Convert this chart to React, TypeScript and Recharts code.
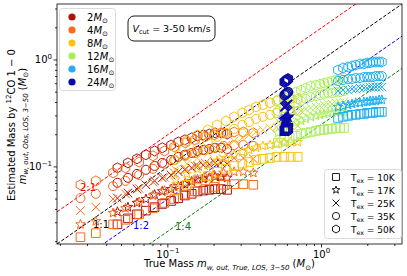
import React from 'react'
import { ScatterChart, Scatter, XAxis, YAxis, ReferenceLine } from 'recharts'

const W = 407
const H = 276
const domain: [number, number] = [0.019, 3.34]

const massNames = ['2', '4', '8', '12', '16', '24']
const massColors = ['#b3120c', '#fb6a1a', '#ffc20e', '#a8f05a', '#1cb0f5', '#0a0aa6']
const texNames = ['10K', '17K', '25K', '35K', '50K']
const texShapes = ['square', 'star', 'cross', 'circle', 'hexagon']

const axisTicks = [0.02, 0.03, 0.04, 0.05, 0.06, 0.07, 0.08, 0.09, 0.1, 0.2, 0.3, 0.4, 0.5, 0.6, 0.7, 0.8, 0.9, 1, 2, 3]
const majorTicks = [0.1, 1]
const majorExps = ['−1', '0']

// 2 Msun
const x2M = [0.047, 0.055, 0.063, 0.072, 0.082, 0.092, 0.105, 0.117, 0.129, 0.143, 0.156, 0.170, 0.186, 0.203, 0.222, 0.243]
const y2M_50K = [0.098, 0.109, 0.119, 0.130, 0.141, 0.151, 0.160, 0.171, 0.179, 0.187, 0.195, 0.199, 0.203, 0.208, 0.208, 0.203]
const y2M_35K = [0.071, 0.079, 0.086, 0.094, 0.102, 0.109, 0.116, 0.124, 0.130, 0.135, 0.141, 0.144, 0.147, 0.151, 0.151, 0.147]
const y2M_25K = [0.051, 0.057, 0.062, 0.068, 0.074, 0.079, 0.084, 0.090, 0.094, 0.098, 0.102, 0.104, 0.106, 0.109, 0.109, 0.106]
const y2M_17K = [0.038, 0.042, 0.046, 0.050, 0.055, 0.059, 0.062, 0.066, 0.069, 0.073, 0.076, 0.077, 0.079, 0.081, 0.081, 0.079]
const y2M_10K = [0.029, 0.033, 0.036, 0.039, 0.042, 0.045, 0.048, 0.051, 0.054, 0.056, 0.059, 0.060, 0.061, 0.062, 0.062, 0.061]

// 4 Msun
const x4M = [0.027, 0.034, 0.044, 0.053, 0.065, 0.080, 0.095, 0.110, 0.130, 0.150, 0.175, 0.200, 0.230, 0.270, 0.310, 0.360]
const y4M_50K = [0.068, 0.074, 0.088, 0.098, 0.111, 0.127, 0.141, 0.154, 0.168, 0.179, 0.191, 0.199, 0.208, 0.212, 0.212, 0.208]
const y4M_35K = [0.051, 0.056, 0.066, 0.074, 0.084, 0.096, 0.107, 0.116, 0.127, 0.135, 0.144, 0.150, 0.157, 0.160, 0.160, 0.157]
const y4M_25K = [0.039, 0.042, 0.050, 0.056, 0.063, 0.072, 0.080, 0.088, 0.096, 0.102, 0.109, 0.113, 0.119, 0.121, 0.121, 0.119]
const y4M_17K = [0.029, 0.031, 0.037, 0.041, 0.047, 0.054, 0.060, 0.065, 0.071, 0.076, 0.081, 0.084, 0.088, 0.090, 0.090, 0.088]
const y4M_10K = [0.022, 0.024, 0.029, 0.032, 0.036, 0.041, 0.046, 0.050, 0.055, 0.059, 0.062, 0.065, 0.068, 0.069, 0.069, 0.068]

// 8 Msun
const x8M = [0.112, 0.133, 0.156, 0.182, 0.209, 0.239, 0.270, 0.305, 0.338, 0.375, 0.415, 0.462, 0.510, 0.570, 0.630, 0.700]
const y8M_50K = [0.151, 0.175, 0.199, 0.222, 0.247, 0.269, 0.294, 0.320, 0.341, 0.364, 0.380, 0.397, 0.414, 0.423, 0.432, 0.432]
const y8M_35K = [0.116, 0.132, 0.151, 0.171, 0.191, 0.208, 0.227, 0.247, 0.263, 0.281, 0.294, 0.307, 0.320, 0.327, 0.334, 0.334]
const y8M_25K = [0.094, 0.107, 0.121, 0.135, 0.147, 0.160, 0.175, 0.187, 0.199, 0.212, 0.222, 0.231, 0.236, 0.242, 0.242, 0.242]
const y8M_17K = [0.076, 0.086, 0.096, 0.104, 0.114, 0.121, 0.130, 0.138, 0.144, 0.151, 0.157, 0.160, 0.164, 0.168, 0.171, 0.171]
const y8M_10K = [0.061, 0.068, 0.076, 0.082, 0.090, 0.096, 0.102, 0.107, 0.111, 0.116, 0.119, 0.121, 0.124, 0.124, 0.124, 0.124]

// 12 Msun
const x12M = [0.52, 0.57, 0.62, 0.68, 0.735, 0.79, 0.85, 0.92, 0.98, 1.04, 1.10, 1.17, 1.24, 1.32, 1.40]
const y12M_50K = [0.423, 0.450, 0.481, 0.502, 0.524, 0.547, 0.571, 0.583, 0.596, 0.609, 0.622, 0.636, 0.650, 0.664, 0.678]
const y12M_35K = [0.334, 0.356, 0.380, 0.397, 0.414, 0.432, 0.450, 0.460, 0.470, 0.481, 0.491, 0.491, 0.502, 0.502, 0.513]
const y12M_25K = [0.269, 0.287, 0.307, 0.320, 0.334, 0.348, 0.356, 0.363, 0.371, 0.380, 0.388, 0.388, 0.397, 0.397, 0.405]
const y12M_17K = [0.208, 0.227, 0.242, 0.258, 0.269, 0.281, 0.294, 0.300, 0.307, 0.313, 0.320, 0.320, 0.327, 0.327, 0.327]
const y12M_10K = [0.168, 0.179, 0.187, 0.195, 0.203, 0.208, 0.212, 0.217, 0.222, 0.222, 0.227, 0.227, 0.231, 0.231, 0.231]

// 16 Msun
const x16M = [1.28, 1.38, 1.49, 1.58, 1.67, 1.78, 1.89, 1.98, 2.07, 2.16, 2.26, 2.37, 2.47]
const y16M_50K = [0.806, 0.842, 0.860, 0.879, 0.898, 0.918, 0.918, 0.938, 0.938, 0.958, 0.958, 0.958, 0.958]
const y16M_35K = [0.636, 0.650, 0.664, 0.664, 0.678, 0.678, 0.693, 0.693, 0.693, 0.693, 0.708, 0.708, 0.708]
const y16M_25K = [0.513, 0.524, 0.524, 0.535, 0.535, 0.547, 0.547, 0.547, 0.559, 0.559, 0.559, 0.559, 0.559]
const y16M_17K = [0.363, 0.371, 0.380, 0.388, 0.397, 0.397, 0.405, 0.405, 0.414, 0.414, 0.414, 0.423, 0.423]
const y16M_10K = [0.287, 0.294, 0.300, 0.307, 0.307, 0.313, 0.313, 0.320, 0.320, 0.320, 0.327, 0.327, 0.327]

// 24 Msun
const x24M = [0.575, 0.585, 0.595, 0.605]
const y24M_50K = [0.622, 0.636, 0.650, 0.664]
const y24M_35K = [0.470, 0.481, 0.491, 0.502]
const y24M_25K = [0.363, 0.371, 0.380, 0.388]
const y24M_17K = [0.275, 0.281, 0.287, 0.294]
const y24M_10K = [0.217, 0.222, 0.227, 0.231]

const massTable = [
  { xs: x2M, ys: [y2M_10K, y2M_17K, y2M_25K, y2M_35K, y2M_50K] },
  { xs: x4M, ys: [y4M_10K, y4M_17K, y4M_25K, y4M_35K, y4M_50K] },
  { xs: x8M, ys: [y8M_10K, y8M_17K, y8M_25K, y8M_35K, y8M_50K] },
  { xs: x12M, ys: [y12M_10K, y12M_17K, y12M_25K, y12M_35K, y12M_50K] },
  { xs: x16M, ys: [y16M_10K, y16M_17K, y16M_25K, y16M_35K, y16M_50K] },
  { xs: x24M, ys: [y24M_10K, y24M_17K, y24M_25K, y24M_35K, y24M_50K] },
]

const ratios = [2, 1, 0.5, 0.25]
const ratioColors = ['#ff0000', '#000000', '#0000ff', '#008000']
const ratioNames = ['2:1', '1:1', '1:2', '1:4']

const series = massTable.flatMap((m, mi) =>
  m.ys.map((ys, ti) => ({
    key: `${massNames[mi]}-${texNames[ti]}`,
    color: massColors[mi],
    kind: texShapes[ti],
    width: mi === 5 ? 1.6 : 1,
    data: m.xs.map((x, i) => ({ x, y: ys[i] })),
  })),
)

const FONT = '"DejaVu Sans", sans-serif'

function markerPath(kind: string, cx: number, cy: number, s = 1) {
  if (kind === 'square') {
    const h = 4.3 * s
    return `M${cx - h},${cy - h}h${2 * h}v${2 * h}h${-2 * h}z`
  }
  if (kind === 'cross') {
    const h = 4.3 * s
    return `M${cx - h},${cy - h}L${cx + h},${cy + h}M${cx - h},${cy + h}L${cx + h},${cy - h}`
  }
  if (kind === 'hexagon') {
    const r = 5 * s
    const pts = [0, 1, 2, 3, 4, 5].map(k => {
      const a = (-90 + 60 * k) * Math.PI / 180
      return `${cx + r * Math.cos(a)},${cy + r * Math.sin(a)}`
    })
    return `M${pts.join('L')}z`
  }
  if (kind === 'star') {
    const R = 5 * s
    const r = R * 0.42
    const pts = Array.from({ length: 10 }, (_, k) => {
      const a = (-90 + 36 * k) * Math.PI / 180
      const rr = k % 2 === 0 ? R : r
      return `${cx + rr * Math.cos(a)},${cy + rr * Math.sin(a)}`
    })
    return `M${pts.join('L')}z`
  }
  const r = 4.5 * s
  return `M${cx - r},${cy}a${r},${r} 0 1,0 ${2 * r},0a${r},${r} 0 1,0 ${-2 * r},0`
}

function XTick({ x, y, payload }: any) {
  const idx = majorTicks.indexOf(payload.value)
  const major = idx >= 0
  return (
    <g>
      <line x1={x} x2={x} y1={y} y2={y + (major ? 3.5 : 2)} stroke="#000" strokeWidth={0.8} />
      {major && (
        <text x={x} y={y + 13.5} textAnchor="middle" fontSize={10} fontFamily={FONT} fill="#000">
          10<tspan dy={-4.5} fontSize={7}>{majorExps[idx]}</tspan>
        </text>
      )}
    </g>
  )
}

function YTick({ x, y, payload }: any) {
  const idx = majorTicks.indexOf(payload.value)
  const major = idx >= 0
  return (
    <g>
      <line x1={x} x2={x - (major ? 3.5 : 2)} y1={y} y2={y} stroke="#000" strokeWidth={0.8} />
      {major && (
        <text x={x - 5} y={y + 3.5} textAnchor="end" fontSize={10} fontFamily={FONT} fill="#000">
          10<tspan dy={-4.5} fontSize={7}>{majorExps[idx]}</tspan>
        </text>
      )}
    </g>
  )
}

const labelPos = [
  { x: 80, y: 191 },
  { x: 93, y: 228 },
  { x: 133, y: 229 },
  { x: 175, y: 230 },
]

function Overlay() {
  return (
    <svg width={W} height={H} style={{ position: 'absolute', left: 0, top: 0, pointerEvents: 'none' }} fontFamily={FONT}>
      <rect x={57} y={4} width={345} height={240} fill="none" stroke="#000" strokeWidth={0.8} />
      {ratioNames.map((n, i) => (
        <text key={n} x={labelPos[i].x} y={labelPos[i].y} fontSize={10} fill={ratioColors[i]}>{n}</text>
      ))}
      {/* mass legend */}
      <rect x={59.5} y={8.5} width={56} height={82} rx={3} fill="#fff" fillOpacity={0.85} stroke="#d0d0d0" strokeWidth={0.8} />
      {massNames.map((m, i) => (
        <g key={m}>
          <circle cx={72} cy={17 + 13 * i} r={3.6} fill={massColors[i]} />
          <text x={87} y={20.5 + 13 * i} fontSize={10} fill="#000">
            {m}<tspan fontStyle="italic">M</tspan><tspan fontSize={7} dy={2}>⊙</tspan>
          </text>
        </g>
      ))}
      {/* Vcut box */}
      <rect x={128} y={16} width={87} height={25} rx={6} fill="#fff" stroke="#000" strokeWidth={0.9} />
      <text x={171.5} y={31.5} textAnchor="middle" fontSize={9.5} fill="#000">
        <tspan fontStyle="italic">V</tspan><tspan fontSize={6.5} dy={2}>cut</tspan><tspan dy={-2}> = 3-50 km/s</tspan>
      </text>
      {/* Tex legend */}
      <rect x={324.5} y={169.5} width={77} height={69} rx={3} fill="#fff" fillOpacity={0.85} stroke="#d0d0d0" strokeWidth={0.8} />
      {texNames.map((t, i) => (
        <g key={t}>
          <path d={markerPath(texShapes[i], 336, 177 + 13 * i, 0.8)} fill="none" stroke="#000" strokeWidth={0.9} />
          <text x={351} y={180.5 + 13 * i} fontSize={9} fill="#000">
            T<tspan fontSize={6.3} dy={2}>ex</tspan><tspan dy={-2}> = {t}</tspan>
          </text>
        </g>
      ))}
      {/* axis labels */}
      <text x={229.5} y={267} textAnchor="middle" fontSize={10} fill="#000">
        True Mass <tspan fontStyle="italic">m</tspan>
        <tspan fontSize={7} fontStyle="italic" dy={2.5}>w, out, True, LOS, 3−50</tspan>
        <tspan dy={-2.5}> (</tspan><tspan fontStyle="italic">M</tspan><tspan fontSize={7} dy={2.5}>⊙</tspan><tspan dy={-2.5}>)</tspan>
      </text>
      <text transform="translate(14.5,125) rotate(-90)" textAnchor="middle" fontSize={10} fill="#000">
        Estimated Mass by <tspan fontSize={7} dy={-4}>12</tspan><tspan dy={4}>CO 1 − 0</tspan>
      </text>
      <text transform="translate(25.5,126) rotate(-90)" textAnchor="middle" fontSize={10} fill="#000">
        <tspan fontStyle="italic">m</tspan>
        <tspan fontSize={7} fontStyle="italic" dy={2.5}>w, out, Obs, LOS, 3−50</tspan>
        <tspan dy={-2.5}> (</tspan><tspan fontStyle="italic">M</tspan><tspan fontSize={7} dy={2.5}>⊙</tspan><tspan dy={-2.5}>)</tspan>
      </text>
    </svg>
  )
}

export default function App() {
  return (
    <div style={{ position: 'absolute', left: 0, top: 0, width: W, height: H, background: '#fff' }}>
      <ScatterChart width={W} height={H} margin={{ top: 4, right: 5, bottom: 0, left: 0 }}>
        <XAxis
          type="number" dataKey="x" scale="log" domain={domain} allowDataOverflow
          ticks={axisTicks} interval={0} tick={(p: any) => <XTick {...p} />}
          tickLine={false} axisLine={false} tickSize={0} tickMargin={0} height={32}
        />
        <YAxis
          type="number" dataKey="y" scale="log" domain={domain} allowDataOverflow
          ticks={axisTicks} interval={0} tick={(p: any) => <YTick {...p} />}
          tickLine={false} axisLine={false} tickSize={0} tickMargin={0} width={57}
        />
        {series.map(s => (
          <Scatter
            key={s.key}
            data={s.data}
            isAnimationActive={false}
            shape={(p: any) => (
              <path d={markerPath(s.kind, p.cx, p.cy)} fill="none" stroke={s.color} strokeWidth={s.width} />
            )}
          />
        ))}
        {ratios.map((k, i) => (
          <ReferenceLine
            key={ratioNames[i]}
            segment={[{ x: domain[0], y: domain[0] * k }, { x: domain[1], y: domain[1] * k }]}
            ifOverflow="hidden"
            stroke={ratioColors[i]}
            strokeWidth={1}
            strokeDasharray="3.5 1.8"
          />
        ))}
      </ScatterChart>
      <Overlay />
    </div>
  )
}
